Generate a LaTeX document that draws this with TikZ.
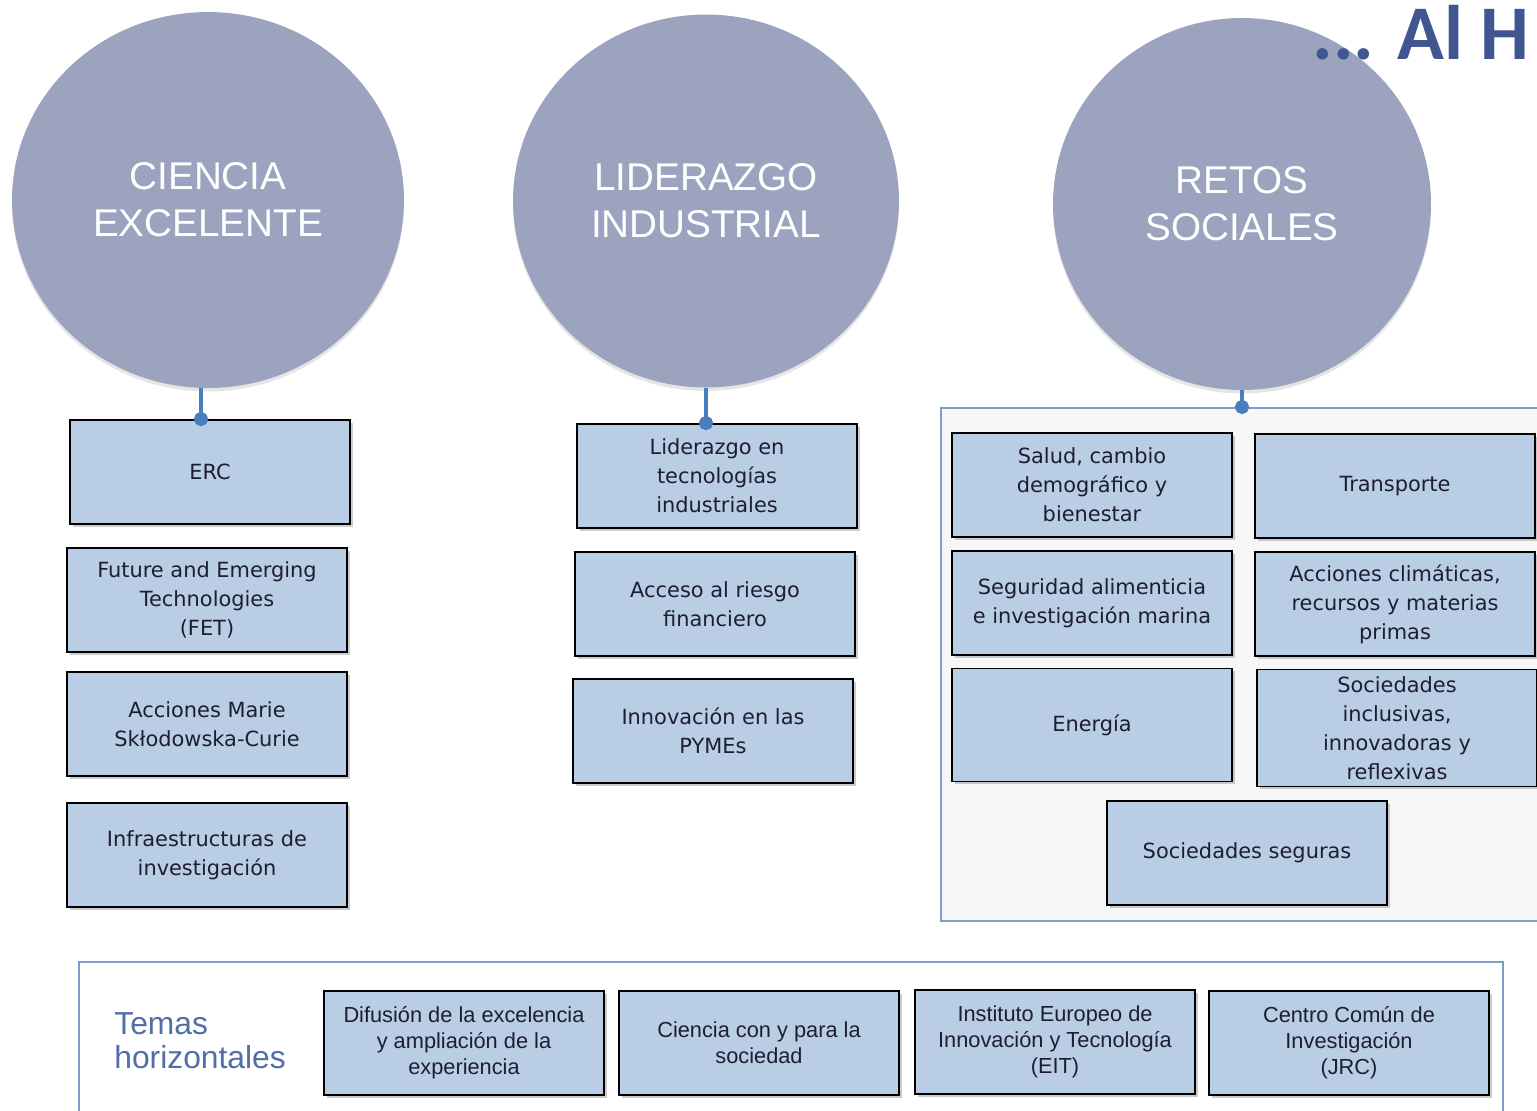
\documentclass[tikz,border=0pt]{standalone}
\usepackage{fontspec}
\setmainfont{Liberation Sans}
\newfontfamily\cellfont{DejaVu Sans}
\newfontfamily\headfont{Carlito}
\usetikzlibrary{shapes.geometric,shadows,arrows.meta}
\definecolor{pillarfill}{RGB}{155,163,190}
\definecolor{cellfill}{RGB}{185,205,229}
\definecolor{linkblue}{RGB}{72,126,192}
\definecolor{frameblue}{RGB}{125,158,205}
\definecolor{headblue}{RGB}{65,86,145}
\definecolor{temasblue}{RGB}{80,110,168}
\definecolor{celltext}{RGB}{30,30,50}
\begin{document}
\begin{tikzpicture}[x=0.02cm, y=-0.02cm,
		pillar/.style={ellipse, inner sep=0pt, fill=pillarfill, text=white, align=center,
			font=\fontsize{22}{26.6}\selectfont,
			drop shadow={shadow xshift=0pt, shadow yshift=-2pt, fill=black!20}},
		cell/.style={draw=black, line width=1.1pt, fill=cellfill, inner sep=0pt,
			minimum width=5.6cm, minimum height=2.08cm, align=center, text=celltext,
			font=\cellfont\fontsize{11.9}{16.6}\selectfont,
			drop shadow={shadow xshift=1.5pt, shadow yshift=-1.5pt, fill=black!40}},
		lowcell/.style={cell, font=\fontsize{12.4}{14.7}\selectfont},
		panel/.style={draw=frameblue, line width=1.2pt, inner sep=0pt},
		link/.style={draw=linkblue, line width=2.8pt, -{Circle[length=8pt]}, shorten >=-4pt}
		]
	\clip (0,0) rectangle (1537,1111);
	% frames
	\node [panel, fill=black!3, minimum width=12.08cm, minimum height=10.26cm] (retos) at (1243,664.5) {};
	\node [panel, fill=white, minimum width=28.48cm, minimum height=3.16cm] (temas) at (791,1041) {};
	% pillars
	\node [pillar, minimum width=7.84cm, minimum height=7.52cm] (c1) at (208,200) {CIENCIA\\EXCELENTE};
	\node [pillar, minimum width=7.72cm, minimum height=7.46cm] (c2) at (706,201) {LIDERAZGO\\INDUSTRIAL};
	\node [pillar, minimum width=7.56cm, minimum height=7.44cm] (c3) at (1242,204) {RETOS\\SOCIALES};
	\node [anchor=base west, inner sep=0pt, text=headblue, font=\headfont\bfseries\fontsize{44}{44}\selectfont] (alh) at (1312,60) {... Al H};
	% ciencia excelente
	\node [cell] (erc) at (210,472) {ERC};
	\node [cell] (fet) at (207,600) {Future and Emerging\\Technologies\\(FET)};
	\node [cell] (msca) at (207,724) {Acciones Marie\\Skłodowska-Curie};
	\node [cell] (infra) at (207,855) {Infraestructuras de\\investigación};
	% liderazgo industrial
	\node [cell] (lider) at (717,476) {Liderazgo en\\tecnologías\\industriales};
	\node [cell] (acceso) at (715,604) {Acceso al riesgo\\financiero};
	\node [cell] (pymes) at (713,731) {Innovación en las\\PYMEs};
	% retos sociales
	\node [cell] (salud) at (1092,485) {Salud, cambio\\demográfico y\\bienestar};
	\node [cell] (transp) at (1395,486) {Transporte};
	\node [cell] (segur) at (1092,603) {Seguridad alimenticia\\e investigación marina};
	\node [cell] (clima) at (1395,604) {Acciones climáticas,\\recursos y materias\\primas};
	\node [cell, minimum height=2.26cm] (energia) at (1092,725) {Energía};
	\node [cell, minimum height=2.34cm] (inclus) at (1397,728) {Sociedades\\inclusivas,\\innovadoras y\\reflexivas};
	\node [cell] (seguras) at (1247,853) {Sociedades seguras};
	% temas horizontales
	\node [anchor=west, align=left, inner sep=0pt, text=temasblue, font=\fontsize{18.1}{19.3}\selectfont] (temaslbl) at (114,1041) {Temas\\horizontales};
	\node [lowcell] (difus) at (464,1043) {Difusión de la excelencia\\y ampliación de la\\experiencia};
	\node [lowcell] (sociedad) at (759,1043) {Ciencia con y para la\\sociedad};
	\node [lowcell] (eit) at (1055,1042) {Instituto Europeo de\\Innovación y Tecnología\\(EIT)};
	\node [lowcell] (jrc) at (1349,1043) {Centro Común de\\Investigación\\(JRC)};
	% connectors
	\draw [link] ([xshift=-0.14cm]c1.south) -- ([xshift=-0.14cm]c1.south |- erc.north);
	\draw [link] (c2.south) -- (c2.south |- lider.north);
	\draw [link] (c3.south) -- (c3.south |- retos.north);
\end{tikzpicture}
\end{document}
